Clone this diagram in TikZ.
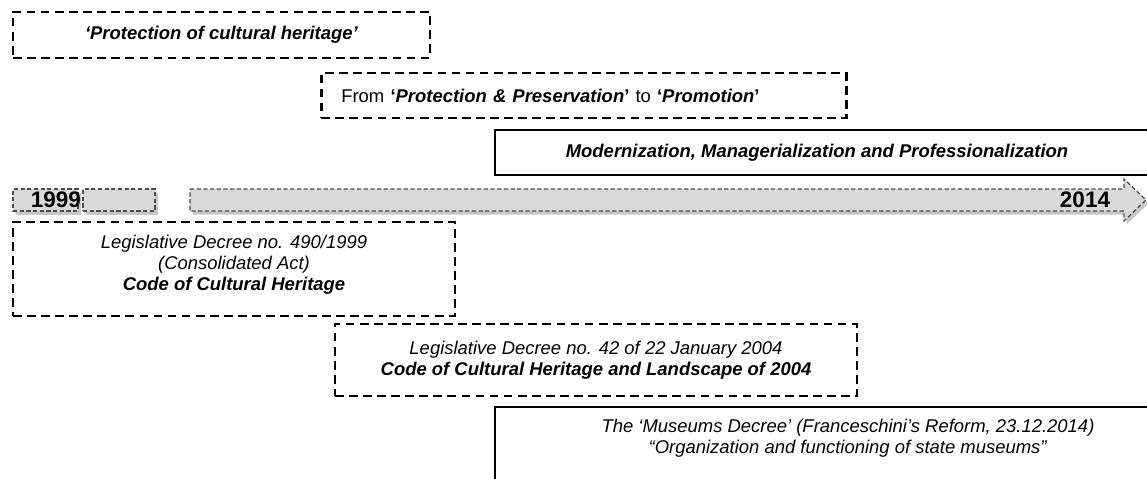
\documentclass[tikz,border=0pt]{standalone}
\usepackage{fontspec}
\setmainfont{Liberation Sans}
\usepackage{tikz}
\usetikzlibrary{shadows}
\tikzstyle{dbox}=[draw,line width=1.5pt,dash pattern=on 5pt off 3pt,inner sep=0pt,align=center,font=\fontsize{10.5}{11.9}\selectfont]
\tikzstyle{tlbox}=[draw=black!70,fill=black!15,line width=0.7pt,dash pattern=on 2.4pt off 1.4pt,drop shadow={opacity=0.45,shadow xshift=0.05cm,shadow yshift=-0.07cm}]
\tikzstyle{year}=[inner sep=0pt,font=\fontsize{12.8}{14}\selectfont\bfseries]
\tikzstyle{txt}=[inner sep=0pt,align=center,font=\fontsize{10.5}{11.9}\selectfont]

\begin{document}
\begin{tikzpicture}
	\useasboundingbox (0,0) rectangle (22.94,-9.58);
	% periods
	\node[dbox,minimum width=8.34cm,minimum height=0.92cm] (prot) at (4.43,-0.70) {\textbf{\textit{‘Protection of cultural heritage’}}};
	\node[dbox,anchor=west,text width=9.7cm,inner xsep=0.4cm,align=left,minimum height=0.90cm] (promo) at (6.40,-1.91) {From \textbf{‘\textit{Protection \& Preservation}’} to \textbf{‘\textit{Promotion}’}};
	\node[txt] (modern) at (16.34,-3.05) {\textbf{\textit{Modernization, Managerialization and Professionalization}}};
	\draw[line width=0.9pt] (22.94,-2.60) -| (9.90,-3.50) -- (22.94,-3.50);
	% timeline
	\node[tlbox,minimum width=1.30cm,minimum height=0.44cm] (t1) at (0.91,-4.0) {};
	\node[tlbox,minimum width=1.44cm,minimum height=0.44cm] (t2) at (2.38,-4.0) {};
	\filldraw[tlbox] (3.80,-3.78) -- (22.48,-3.78) -- (22.48,-3.58) -- (22.92,-4.0) -- (22.48,-4.42) -- (22.48,-4.22) -- (3.80,-4.22) -- cycle;
	\node[year] (y1999) at (1.12,-4.0) {1999};
	\node[year] (y2014) at (21.70,-4.0) {2014};
	% decrees
	\node[dbox,minimum width=8.84cm,minimum height=1.88cm] (code99) at (4.68,-5.38) {\textit{Legislative Decree no. 490/1999}\\\textit{(Consolidated Act)}\\\textbf{\textit{Code of Cultural Heritage}}\\[-5pt]};
	\node[dbox,minimum width=10.44cm,minimum height=1.44cm] (code04) at (11.92,-7.20) {\textit{Legislative Decree no. 42 of 22 January 2004}\\\textbf{\textit{Code of Cultural Heritage and Landscape of 2004}}};
	\node[txt] (museums) at (16.96,-8.77) {\textit{The ‘Museums Decree’ (Franceschini’s Reform, 23.12.2014)}\\\textit{“Organization and functioning of state museums”}};
	\draw[line width=0.9pt] (22.94,-8.14) -| (9.90,-9.58);
\end{tikzpicture}
\end{document}
